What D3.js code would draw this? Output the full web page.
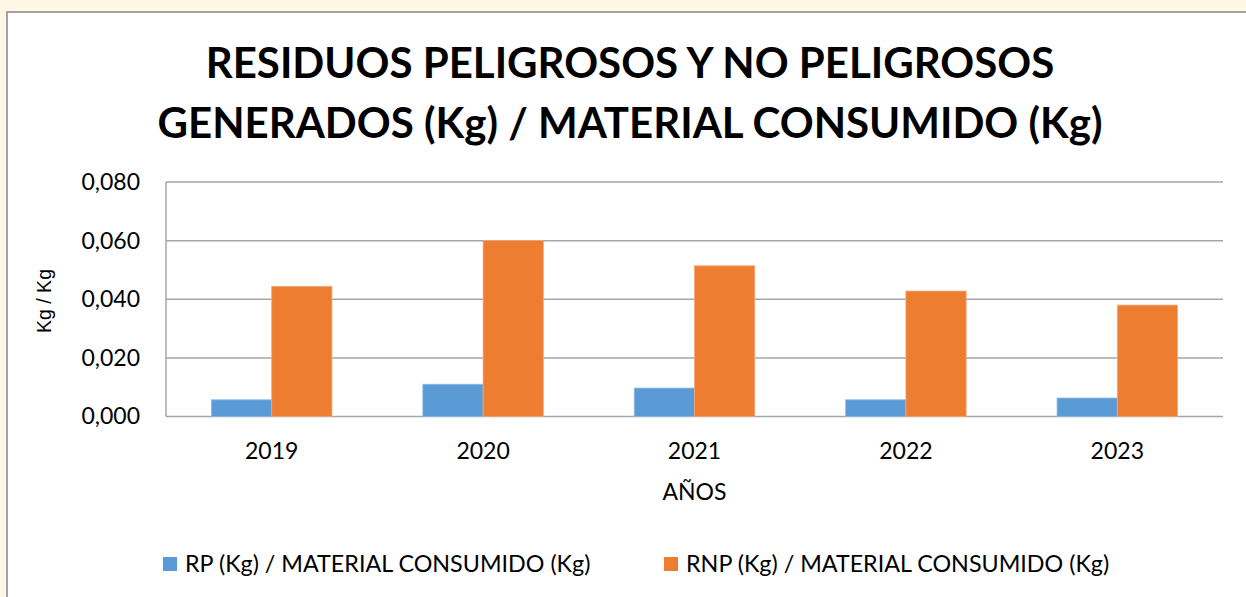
<!DOCTYPE html>
<html>
<head>
<meta charset="utf-8">
<script src="https://cdn.jsdelivr.net/npm/d3@7"></script>
<style>
  html, body { margin: 0; padding: 0; background: #fff7e5; }
  svg { display: block; }
</style>
</head>
<body>
<div id="chart"></div>
<script>
// 데이터
const years = ['2019', '2020', '2021', '2022', '2023'];
const rpValues = [0.0057, 0.0110, 0.0097, 0.0057, 0.0063];
const rnpValues = [0.0444, 0.0600, 0.0514, 0.0428, 0.0380];
const seriesNames = ['RP (Kg) / MATERIAL CONSUMIDO (Kg)', 'RNP (Kg) / MATERIAL CONSUMIDO (Kg)'];
const yTicks = [0, 0.02, 0.04, 0.06, 0.08];
const titleLines = ['RESIDUOS PELIGROSOS Y NO PELIGROSOS', 'GENERADOS (Kg) / MATERIAL CONSUMIDO (Kg)'];

const W = 1246, H = 597;
const font = 'Lato, "Open Sans", sans-serif';
const colors = ['#5b9bd5', '#ed7d31'];

const svg = d3.select('#chart').append('svg')
    .attr('width', W)
    .attr('height', H);

// 배경
svg.append('rect').attr('width', W).attr('height', H).attr('fill', '#fff7e5');
svg.append('rect')
    .attr('x', 7).attr('y', 12)
    .attr('width', W).attr('height', H)
    .attr('fill', '#fff')
    .attr('stroke', '#a8a49c')
    .attr('stroke-width', 2);

// 플롯 영역
const plot = { left: 166, right: 1223, top: 182, bottom: 416.5 };

const x0 = d3.scaleBand().domain(years).range([plot.left, plot.right]).paddingInner(0.43).paddingOuter(0.215);
const x1 = d3.scaleBand().domain([0, 1]).range([0, x0.bandwidth()]);
const y = d3.scaleLinear().domain([0, 0.08]).range([plot.bottom, plot.top]);

// 그리드
svg.append('g')
    .selectAll('line')
    .data(yTicks)
    .join('line')
    .attr('x1', plot.left).attr('x2', plot.right)
    .attr('y1', d => y(d)).attr('y2', d => y(d))
    .attr('stroke', '#a6a6a6')
    .attr('stroke-width', 1.5);

svg.append('line')
    .attr('x1', plot.left).attr('x2', plot.left)
    .attr('y1', plot.top).attr('y2', plot.bottom)
    .attr('stroke', '#a6a6a6')
    .attr('stroke-width', 1.5);

// 막대
const series = [rpValues, rnpValues];
series.forEach((vals, si) => {
    svg.append('g')
        .selectAll('rect')
        .data(vals)
        .join('rect')
        .attr('x', (d, i) => x0(years[i]) + x1(si))
        .attr('y', d => y(d))
        .attr('width', x1.bandwidth())
        .attr('height', d => plot.bottom - y(d))
        .attr('fill', colors[si])
        .attr('stroke', si === 0 ? '#8cbbe6' : '#f4a77a')
        .attr('stroke-width', 0.8);
});

// 축 라벨
const yAxis = d3.axisLeft(y)
    .tickValues(yTicks)
    .tickFormat(d => d3.format('.3f')(d).replace('.', ','))
    .tickSize(0)
    .tickPadding(26);
const gy = svg.append('g').attr('transform', `translate(${plot.left},0)`).call(yAxis);
gy.select('.domain').remove();
gy.selectAll('text').attr('font-family', font).attr('font-size', 23).attr('fill', '#000');

const xAxis = d3.axisBottom(x0).tickSize(0).tickPadding(26);
const gx = svg.append('g').attr('transform', `translate(0,${plot.bottom})`).call(xAxis);
gx.select('.domain').remove();
gx.selectAll('text').attr('font-family', font).attr('font-size', 23).attr('fill', '#000');

svg.append('text')
    .attr('x', (plot.left + plot.right) / 2)
    .attr('y', 500)
    .attr('text-anchor', 'middle')
    .attr('font-family', font)
    .attr('font-size', 23)
    .text('AÑOS');

svg.append('text')
    .attr('transform', 'translate(51,301) rotate(-90)')
    .attr('text-anchor', 'middle')
    .attr('font-family', '"Liberation Sans", Arial, sans-serif')
    .attr('font-size', 19.5)
    .text('Kg / Kg');

// 제목
svg.append('g')
    .selectAll('text')
    .data(titleLines)
    .join('text')
    .attr('x', 630)
    .attr('y', (d, i) => 78 + i * 60)
    .attr('text-anchor', 'middle')
    .attr('font-family', font)
    .attr('font-weight', 'bold')
    .attr('font-size', 42)
    .text(d => d);

// 범례
const legendX = [163, 664];
const legend = svg.append('g')
    .selectAll('g')
    .data(seriesNames)
    .join('g')
    .attr('transform', (d, i) => `translate(${legendX[i]},557)`);
legend.append('rect')
    .attr('width', 14).attr('height', 14)
    .attr('fill', (d, i) => colors[i]);
legend.append('text')
    .attr('x', 22).attr('y', 15)
    .attr('font-family', font)
    .attr('font-size', 23.3)
    .text(d => d);
</script>
</body>
</html>
